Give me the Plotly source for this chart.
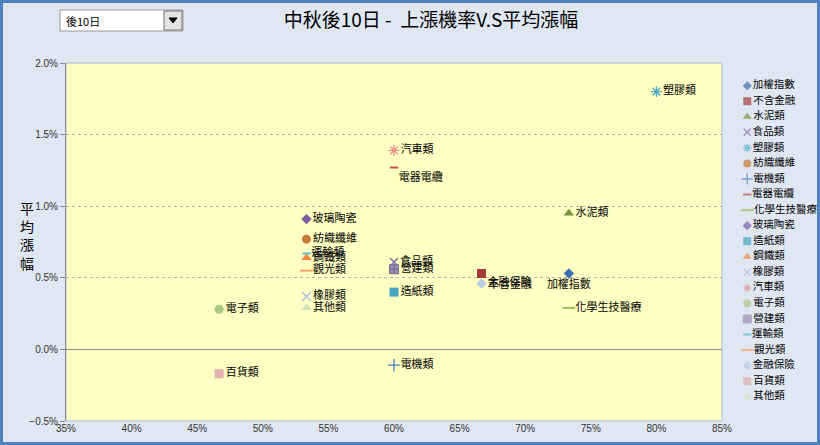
import plotly.graph_objects as go

# --- datos: probabilidad de subida (x) vs. subida media (y), 10 días tras el Festival del Medio Otoño ---
categorias = ['加權指數', '不含金融', '水泥類', '食品類', '塑膠類', '紡織纖維', '電機類',
              '電器電纜', '化學生技醫療', '玻璃陶瓷', '造紙類', '鋼鐵類', '橡膠類', '汽車類',
              '電子類', '營建類', '運輸類', '觀光類', '金融保險', '百貨類', '其他類']
prob_subida = [0.7333, 0.6667, 0.7333, 0.6000, 0.8000, 0.5333, 0.6000,
               0.6000, 0.7333, 0.5333, 0.6000, 0.5333, 0.5333, 0.6000,
               0.4667, 0.6000, 0.5333, 0.5333, 0.6667, 0.4667, 0.5333]
subida_media = [0.0053, 0.0053, 0.0095, 0.0061, 0.0180, 0.0077, -0.0011,
                0.0127, 0.0029, 0.0091, 0.0040, 0.0064, 0.0037, 0.0139,
                0.0028, 0.0056, 0.0067, 0.0055, 0.0046, -0.0017, 0.0029]
x_ticks = [0.35, 0.40, 0.45, 0.50, 0.55, 0.60, 0.65, 0.70, 0.75, 0.80, 0.85]
y_ticks = [-0.005, 0.0, 0.005, 0.010, 0.015, 0.020]

# --- estilo de cada serie (símbolo, color, tamaño, posición de etiqueta) ---
simbolos = ['diamond', 'square', 'triangle-up', 'x-thin-open', 'asterisk-open', 'circle',
            'cross-thin-open', 'line-ew-open', 'line-ew-open', 'diamond', 'square',
            'triangle-up', 'x-thin-open', 'asterisk-open', 'circle', 'square-cross',
            'line-ew-open', 'line-ew-open', 'diamond', 'square', 'triangle-up']
colores = ['#3f6fae', '#a33c3a', '#77933c', '#8064a2', '#4bacc6', '#c8783a', '#4f81bd',
           '#c0504d', '#9bbb59', '#7a5ca0', '#46a5c3', '#f38a3c', '#a8bde0', '#e3908e',
           '#a9c785', '#9c90b5', '#5fbad3', '#f9a36c', '#b9cbe6', '#e2b0b0', '#d3e2bf']
tamanos = [8, 9, 9, 8, 9, 9, 9, 6, 9, 8, 9, 9, 9, 9, 9, 9, 6, 9, 8, 9, 9]
tamanos_ley = [7, 8, 8, 7, 7, 8, 8, 6, 9, 7, 8, 8, 7, 7, 8, 8, 6, 9, 7, 8, 8]
pos_texto = ['bottom center', 'bottom right', 'middle right', 'middle right', 'middle right',
             'middle right', 'middle right', 'bottom right', 'middle right', 'middle right',
             'middle right', 'middle right', 'middle right', 'middle right', 'middle right',
             'middle right', 'middle right', 'middle right', 'middle right', 'middle right',
             'middle right']

FUENTE = 'Noto Sans CJK TC'


def borde(i):
    if simbolos[i].startswith('line-ew'):
        return dict(color=colores[i], width=2)
    if simbolos[i].endswith('-open'):
        return dict(color=colores[i], width=1.3)
    if simbolos[i] == 'square-cross':
        return dict(color='#6f6390', width=1)
    return dict(color=colores[i], width=0)


fig = go.Figure()
for i, nombre in enumerate(categorias):
    fig.add_trace(go.Scatter(
        x=[prob_subida[i]], y=[subida_media[i]],
        mode='markers+text', name=nombre,
        text=[nombre], textposition=pos_texto[i],
        textfont=dict(family=FUENTE, size=11, color='#000000'),
        marker=dict(symbol=simbolos[i], size=tamanos[i], color=colores[i], line=borde(i)),
        cliponaxis=False, showlegend=False,
    ))

# leyenda dibujada como una columna en un eje categórico propio (espaciado como en Excel)
fig.add_trace(go.Scatter(
    x=[0] * len(categorias), y=categorias, xaxis='x2', yaxis='y2',
    mode='markers+text', text=categorias, textposition='middle right',
    textfont=dict(family=FUENTE, size=10.5, color='#000000'),
    marker=dict(symbol=simbolos, size=tamanos_ley, color=colores,
                line=dict(color=colores, width=[borde(i)['width'] for i in range(len(categorias))])),
    cliponaxis=False, showlegend=False, hoverinfo='skip',
))

ANCHO = 754.0   # ancho de la zona de ejes en px (l=66, r=0)
ALTO = 358.0    # alto de la zona de ejes en px
px = lambda v: (v - 66) / ANCHO
py = lambda v: (421 - v) / ALTO

fig.update_layout(
    xaxis=dict(domain=[0, px(722)], range=[0.35, 0.85], tickvals=x_ticks, tickformat='.0%',
               tickfont=dict(family='Liberation Sans', size=10, color='#333333'),
               showgrid=False, zeroline=False, showline=False, ticks=''),
    yaxis=dict(domain=[0, 1], range=[-0.005, 0.020], tickvals=y_ticks, tickformat='.1%',
               tickfont=dict(family='Liberation Sans', size=10, color='#333333'),
               showgrid=True, gridcolor='#b5b5b5', griddash='dot', gridwidth=1,
               zeroline=True, zerolinecolor='#8c8c8c', zerolinewidth=1,
               showline=True, linecolor='#8c8c8c', ticks='outside', ticklen=5,
               tickcolor='#8c8c8c'),
    xaxis2=dict(domain=[px(740), 1], range=[-0.1, 1], visible=False, anchor='y2'),
    yaxis2=dict(domain=[py(419.5), py(63.5)], autorange='reversed', visible=False,
                anchor='x2', type='category'),
)

# cuadro desplegable (sólo decorativo), fondo del área de trazado y borde de la página
formas = [
    dict(type='rect', xref='paper', yref='paper', x0=px(1.5), x1=px(818.5), y0=py(443.5), y1=py(1.5),
         line=dict(color='#4f81bd', width=3), fillcolor='rgba(0,0,0,0)', layer='below'),
    dict(type='rect', xref='paper', yref='paper', x0=0, x1=px(722), y0=0, y1=1,
         line=dict(color='#a6bcd9', width=1), fillcolor='#ffffc4', layer='below'),
    dict(type='rect', xref='paper', yref='paper', x0=px(60), x1=px(183), y0=py(31), y1=py(10),
         line=dict(color='#9a9a9a', width=1), fillcolor='#ffffff'),
    dict(type='rect', xref='paper', yref='paper', x0=px(164), x1=px(182), y0=py(30), y1=py(11),
         line=dict(color='#707070', width=1), fillcolor='#e4e4e4'),
    dict(type='path', xref='paper', yref='paper',
         path=f'M {px(169)},{py(18)} L {px(177)},{py(18)} L {px(173)},{py(23)} Z',
         line=dict(color='#000000', width=1), fillcolor='#000000'),
]

fig.update_layout(
    width=820, height=445,
    margin=dict(l=66, r=0, t=63, b=24, autoexpand=False),
    paper_bgcolor='#dfe7f3', plot_bgcolor='rgba(0,0,0,0)',
    font=dict(family=FUENTE),
    title=dict(text='中秋後10日 -  上漲機率V.S平均漲幅', x=431 / 820, xref='container',
               y=1 - 20 / 445, yref='container', xanchor='center', yanchor='middle',
               font=dict(family=FUENTE, size=19, color='#000000')),
    shapes=formas,
    annotations=[
        dict(text='平<br>均<br>漲<br>幅', xref='paper', yref='paper', x=px(18), y=py(235),
             showarrow=False, font=dict(family=FUENTE, size=14, color='#000000')),
        dict(text='後10日', xref='paper', yref='paper', x=px(64), y=py(20.5), xanchor='left',
             yanchor='middle', showarrow=False,
             font=dict(family=FUENTE, size=11, color='#000000')),
    ],
    showlegend=False,
)

# quitar el margen por defecto del <body> para que la figura ocupe toda la ventana
fig.write_html('out.html', config={'displayModeBar': False},
               post_script="document.body.style.margin='0';document.body.style.overflow='hidden';")
